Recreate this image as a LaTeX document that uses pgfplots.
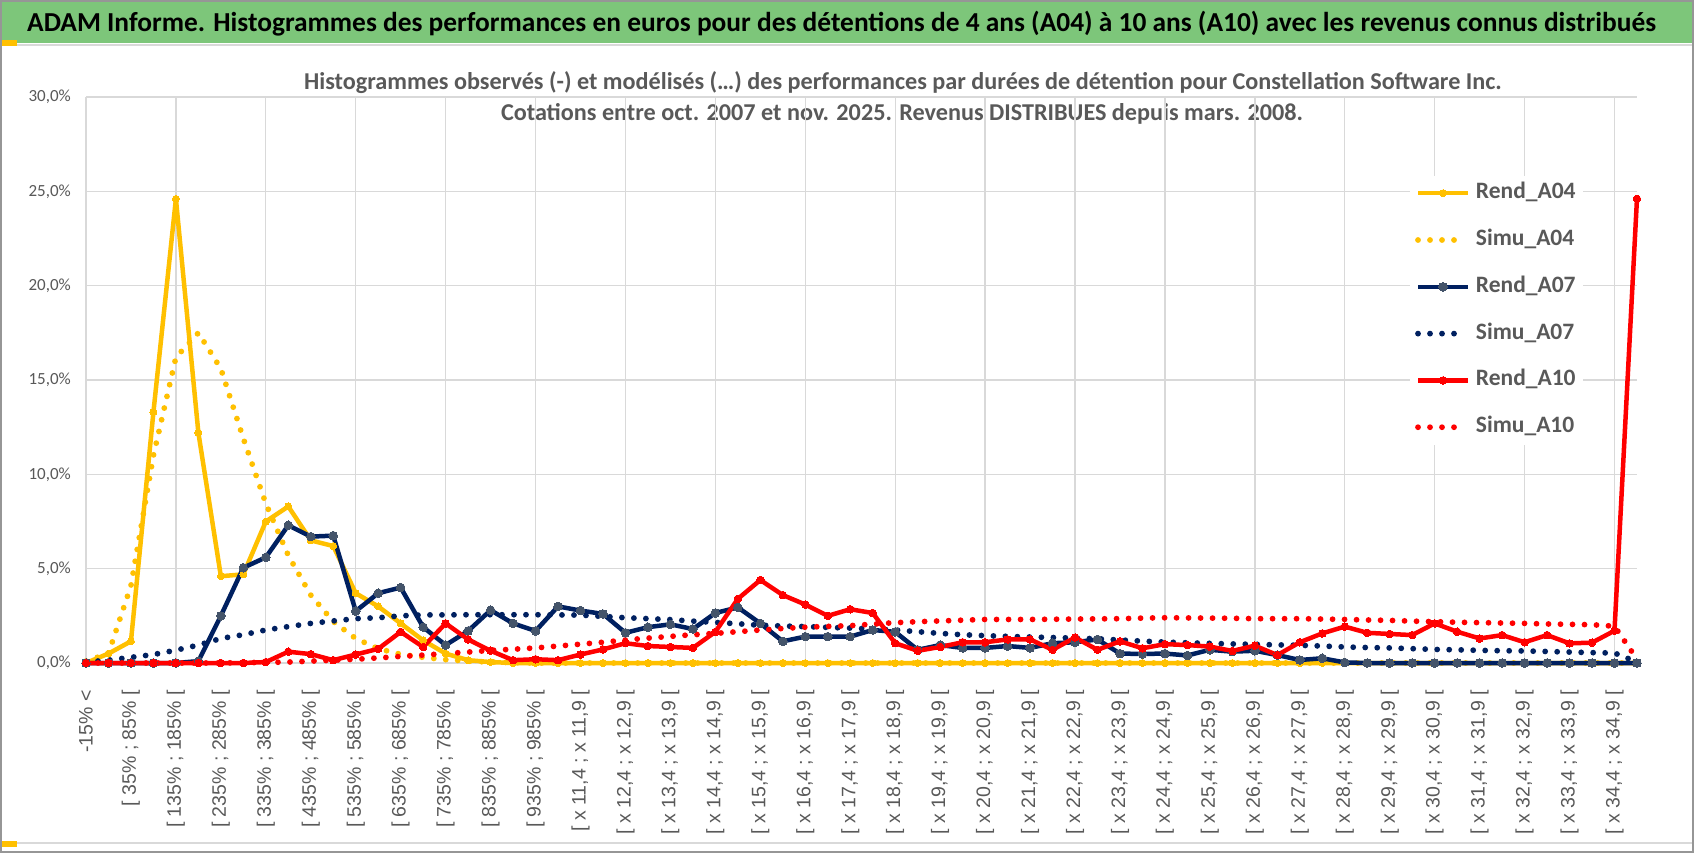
\documentclass[border=0pt]{standalone}
\usepackage{pgfplots}
\usepackage{pgfplotstable}
\pgfplotsset{compat=1.18}
\usepackage{fontspec}
\setmainfont{Carlito}
\newfontfamily\tickfont{Liberation Sans}
\definecolor{cyel}{RGB}{255,192,0}
\definecolor{cnavy}{RGB}{0,32,96}
\definecolor{cred}{RGB}{255,0,0}
\definecolor{cmark}{RGB}{68,84,106}
\definecolor{cgrid}{RGB}{217,217,217}
\definecolor{ctxt}{RGB}{89,89,89}
\definecolor{cban}{RGB}{125,198,122}
\definecolor{cframe}{RGB}{150,150,150}

\pgfplotstableread{
c r4 s4 r7 s7 r10 s10
0 0 0.1 0 0.05 0 0
1 0.5 0.5 0 0.15 0 0
2 1.15 4.1 0 0.3 0 0
3 13.3 11.0 0 0.45 0 0
4 24.6 16.2 0 0.68 0 0
5 12.2 17.5 0.1 0.95 0 0
6 4.6 15.6 2.5 1.3 0 0
7 4.7 11.9 5.05 1.5 0 0.02
8 7.5 8.45 5.6 1.75 0.05 0.03
9 8.3 5.7 7.3 1.93 0.6 0.05
10 6.5 3.6 6.7 2.1 0.47 0.1
11 6.2 2.2 6.75 2.23 0.15 0.15
12 3.7 1.3 2.75 2.35 0.45 0.2
13 3.0 0.76 3.7 2.4 0.75 0.27
14 2.1 0.46 4.0 2.5 1.65 0.35
15 1.2 0.3 1.9 2.55 0.85 0.42
16 0.5 0.18 0.95 2.55 2.1 0.5
17 0.15 0.1 1.7 2.56 1.25 0.58
18 0.05 0.05 2.8 2.56 0.65 0.67
19 0 0.02 2.1 2.56 0.15 0.73
20 0 0 1.7 2.56 0.2 0.8
21 0 0 3.0 2.55 0.15 0.9
22 0 0 2.78 2.54 0.45 1.0
23 0 0 2.6 2.47 0.72 1.1
24 0 0 1.6 2.4 1.05 1.22
25 0 0 1.9 2.35 0.9 1.32
26 0 0 2.05 2.3 0.85 1.41
27 0 0 1.8 2.22 0.8 1.5
28 0 0 2.65 2.15 1.65 1.57
29 0 0 2.95 2.08 3.4 1.66
30 0 0 2.1 2.0 4.4 1.75
31 0 0 1.15 1.96 3.6 1.83
32 0 0 1.4 1.93 3.1 1.9
33 0 0 1.4 1.89 2.5 1.94
34 0 0 1.4 1.85 2.85 1.98
35 0 0 1.75 1.8 2.65 2.06
36 0 0 1.65 1.75 1.05 2.14
37 0 0 0.7 1.66 0.65 2.19
38 0 0 0.95 1.57 0.85 2.23
39 0 0 0.8 1.5 1.1 2.27
40 0 0 0.8 1.45 1.1 2.31
41 0 0 0.9 1.41 1.25 2.31
42 0 0 0.8 1.38 1.25 2.31
43 0 0 1.05 1.35 0.7 2.32
44 0 0 1.1 1.32 1.35 2.33
45 0 0 1.25 1.28 0.7 2.34
46 0 0 0.5 1.22 1.15 2.35
47 0 0 0.48 1.16 0.78 2.38
48 0 0 0.5 1.11 1.0 2.4
49 0 0 0.4 1.07 0.95 2.39
50 0 0 0.7 1.04 0.87 2.38
51 0 0 0.6 1.01 0.64 2.37
52 0 0 0.65 0.99 0.92 2.35
53 0 0 0.42 0.96 0.42 2.35
54 0 0 0.16 0.94 1.1 2.35
55 0 0 0.25 0.9 1.57 2.33
56 0 0 0.03 0.85 1.93 2.31
57 0 0 0 0.82 1.6 2.28
58 0 0 0 0.8 1.54 2.26
59 0 0 0 0.76 1.48 2.22
60 0 0 0 0.72 2.1 2.19
61 0 0 0 0.7 1.66 2.16
62 0 0 0 0.67 1.3 2.14
63 0 0 0 0.65 1.48 2.12
64 0 0 0 0.64 1.1 2.1
65 0 0 0 0.61 1.48 2.07
66 0 0 0 0.58 1.04 2.05
67 0 0 0 0.55 1.08 2.03
68 0 0 0 0.53 1.71 1.95
69 0 0 0 0.05 24.6 0.2
}\data

\pgfplotsset{
  rendline/.style={line width=4.5pt, line join=round,
    legend image code/.code={\draw[mark repeat=2,mark phase=2,##1] plot coordinates {(0pt,0pt) (25pt,0pt) (50pt,0pt)};}},
  simuline/.style={line width=5.8pt, line cap=round, dash pattern=on 0pt off 12pt, no marks,
    legend image code/.code={\draw[##1] (0pt,0pt) -- (36pt,0pt); \path (50pt,0pt);}},
}

\begin{document}
\begin{tikzpicture}
\useasboundingbox (0pt,0pt) rectangle (1698pt,-854pt);
\fill[white] (0pt,0pt) rectangle (1698pt,-854pt);
\fill[cban] (0pt,0pt) rectangle (1693pt,-43pt);
\draw[cgrid, line width=1.5pt] (0pt,-45pt) -- (1693pt,-45pt);
\fill[cyel] (0pt,-40pt) rectangle (17pt,-46pt);
\draw[cgrid, line width=1.5pt] (0pt,-843pt) -- (1693pt,-843pt);
\fill[cyel] (0pt,-841pt) rectangle (17pt,-847pt);
\draw[cframe, line width=1.5pt] (0.75pt,-0.75pt) rectangle (1693pt,-852pt);
\node[anchor=base west, inner sep=0pt, font=\bfseries\fontsize{27.4}{32}\selectfont, text=black] at (27pt,-31pt)
  {ADAM Informe. Histogrammes des performances en euros pour des détentions de 4 ans (A04) à 10 ans (A10) avec les revenus connus distribués};
\node[anchor=base, inner sep=0pt, font=\bfseries\fontsize{24.2}{28}\selectfont, text=ctxt] at (903pt,-89pt)
  {Histogrammes observés (-) et modélisés (…) des performances par durées de détention pour Constellation Software Inc.};
\node[anchor=base, inner sep=0pt, font=\bfseries\fontsize{24.2}{28}\selectfont, text=ctxt] at (902pt,-120pt)
  {Cotations entre oct. 2007 et nov. 2025. Revenus DISTRIBUES depuis mars. 2008.};
\begin{axis}[
  at={(86pt,-663pt)}, anchor=south west,
  scale only axis, width=1551pt, height=566pt,
  xmin=0, xmax=69, ymin=0, ymax=30,
  clip=false,
  axis line style={draw=none},
  major tick length=0pt, minor tick length=0pt,
  xtick={0,2,...,68},
  minor xtick={0,4,...,68},
  xminorgrids=true, xmajorgrids=false,
  ytick={0,5,...,30},
  ymajorgrids=true,
  major grid style={cgrid, line width=1.3pt},
  minor grid style={cgrid, line width=1.3pt},
  yticklabels={{0,0\%},{5,0\%},{10,0\%},{15,0\%},{20,0\%},{25,0\%},{30,0\%}},
  xticklabels={{-15\% <},{[ 35\% ; 85\% [},{[ 135\% ; 185\% [},{[ 235\% ; 285\% [},{[ 335\% ; 385\% [},{[ 435\% ; 485\% [},{[ 535\% ; 585\% [},{[ 635\% ; 685\% [},{[ 735\% ; 785\% [},{[ 835\% ; 885\% [},{[ 935\% ; 985\% [},
    {[ x 11,4 ; x 11,9 [},{[ x 12,4 ; x 12,9 [},{[ x 13,4 ; x 13,9 [},{[ x 14,4 ; x 14,9 [},{[ x 15,4 ; x 15,9 [},{[ x 16,4 ; x 16,9 [},{[ x 17,4 ; x 17,9 [},{[ x 18,4 ; x 18,9 [},{[ x 19,4 ; x 19,9 [},{[ x 20,4 ; x 20,9 [},{[ x 21,4 ; x 21,9 [},{[ x 22,4 ; x 22,9 [},{[ x 23,4 ; x 23,9 [},{[ x 24,4 ; x 24,9 [},{[ x 25,4 ; x 25,9 [},{[ x 26,4 ; x 26,9 [},{[ x 27,4 ; x 27,9 [},{[ x 28,4 ; x 28,9 [},{[ x 29,4 ; x 29,9 [},{[ x 30,4 ; x 30,9 [},{[ x 31,4 ; x 31,9 [},{[ x 32,4 ; x 32,9 [},{[ x 33,4 ; x 33,9 [},{[ x 34,4 ; x 34,9 [}},
  yticklabel style={font=\fontsize{17}{20}\selectfont, text=ctxt, inner sep=0pt, anchor=east},
  yticklabel shift=15pt,
  xticklabel style={font=\tickfont\fontsize{19.5}{22}\selectfont, text=ctxt, inner sep=0pt, rotate=90, anchor=east},
  xticklabel shift=27pt,
  legend cell align=left,
  legend style={at={(0.8536,0.8613)}, anchor=north west, draw=none, fill=white,
    font=\bfseries\fontsize{23.5}{27}\selectfont, text=ctxt,
    inner xsep=5pt, inner ysep=5pt, row sep=21.8pt,
    nodes={inner sep=2pt, text height=16pt, text depth=5pt},
    /tikz/every odd column/.append style={column sep=3pt}},
]
\addplot[rendline, cyel, mark=*, mark size=3.5pt, mark options={solid, fill=cyel, draw=cyel, line width=0pt}] table[x=c, y=r4] {\data};
\addplot[simuline, cyel] table[x=c, y=s4] {\data};
\addplot[rendline, cnavy, mark=*, mark size=4.3pt, mark options={solid, fill=cmark, draw=cmark, line width=0pt}] table[x=c, y=r7] {\data};
\addplot[simuline, cnavy] table[x=c, y=s7] {\data};
\addplot[rendline, cred, mark=*, mark size=3.8pt, mark options={solid, fill=cred, draw=cred, line width=0pt}] table[x=c, y=r10] {\data};
\addplot[simuline, cred] table[x=c, y=s10] {\data};
\legend{Rend\_A04, Simu\_A04, Rend\_A07, Simu\_A07, Rend\_A10, Simu\_A10}
\end{axis}
\end{tikzpicture}
\end{document}
